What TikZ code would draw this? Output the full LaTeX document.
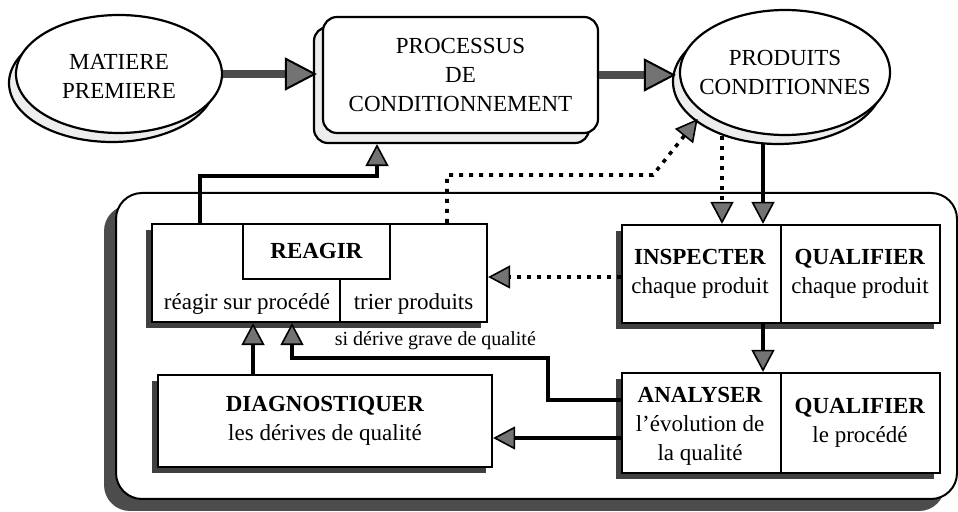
\documentclass[tikz,border=0pt]{standalone}
\usepackage{fontspec}
\setmainfont{Liberation Serif}
\usepackage{tikz}
\usetikzlibrary{arrows.meta,shapes.geometric,shadows,calc}
\newcommand{\txtmain}{\fontsize{11.5}{14.5}\selectfont}
\tikzset{
  ovale/.style   = {ellipse, draw, line width=1.1pt, fill=white, inner sep=0pt,
                    general shadow={shadow xshift=-3.5pt, shadow yshift=-4.5pt,
                                    draw=black, line width=1.1pt, fill=black!7}},
  procbox/.style = {rectangle, rounded corners=7pt, draw, line width=1.1pt, fill=white,
                    align=center, font=\txtmain,
                    general shadow={shadow xshift=-4.5pt, shadow yshift=-5pt,
                                    draw=black, line width=1.1pt, fill=black!7}},
  cadre/.style   = {rectangle, rounded corners=13pt, draw, line width=1pt, fill=white,
                    drop shadow={shadow xshift=-6pt, shadow yshift=-6pt,
                                 fill=black!70, opacity=1}},
  actbox/.style  = {rectangle, draw, line width=1.1pt, fill=white, inner sep=0pt,
                    align=center, font=\txtmain,
                    drop shadow={shadow xshift=-3pt, shadow yshift=-3pt,
                                 fill=black!75, opacity=1}},
  cellbox/.style = {rectangle, draw, line width=1.1pt, fill=white, inner sep=0pt,
                    font=\txtmain},
  txt/.style     = {align=center, font=\txtmain, inner sep=0pt},
  etiq/.style    = {font=\fontsize{10}{12}\selectfont},
  trait/.style   = {line width=1.1pt},
  bigflow/.style = {line width=4pt, draw=black!70,
                    -{Triangle[length=16pt, width=16.5pt, line width=1pt,
                               fill=black!55, color=black]}},
  flow/.style    = {line width=1.8pt,
                    -{Triangle[length=11pt, width=11.5pt, line width=0.8pt,
                               fill=black!55]}},
  dotflow/.style = {flow, dash pattern=on 2pt off 3pt},
}

\begin{document}
\begin{tikzpicture}[x=0.5pt, y=-0.5pt]
  \useasboundingbox (0, 0) rectangle (958, 512);

  \node[cadre, minimum width=420.5pt, minimum height=153pt] (cadre) at (536.5, 346) {};

  \node[ovale, minimum width=103pt, minimum height=59pt] (matiere) at (119, 74) {};
  \node[txt] (matieretxt) at ([yshift=-1pt]matiere.center) {MATIERE\\PREMIERE};
  \node[procbox, minimum width=137.5pt, minimum height=58pt] (proc) at (460.5, 75)
    {PROCESSUS\\DE\\CONDITIONNEMENT};
  \node[ovale, minimum width=105pt, minimum height=62.5pt] (produits) at (785, 72.5) {};
  \node[txt] (produitstxt) at (produits.center) {PRODUITS\\CONDITIONNES};

  \node[actbox, minimum width=167.5pt, minimum height=49pt] (reagir) at (319.5, 273) {};
  \node[cellbox, minimum width=73.5pt, minimum height=27.5pt] (reagirtete) at (316.5, 251.5)
    {\textbf{REAGIR}};
  \coordinate (sep) at (340, 279);
  \draw[trait] (sep) -- (sep |- reagir.south);
  \node[txt, anchor=base] (surproc) at (247, 310) {réagir sur procédé};
  \node[txt, anchor=base] (trier) at (413.5, 310) {trier produits};

  \node[actbox, minimum width=167pt, minimum height=46pt] (diag) at (325, 421)
    {\textbf{DIAGNOSTIQUER}\\les dérives de qualité};

  \node[actbox, minimum width=159pt, minimum height=49pt] (insp) at (781, 274) {};
  \draw[trait] (insp.north) -- (insp.south);
  \node[txt] (inspg) at (700, 274) {\textbf{INSPECTER}\\chaque produit};
  \node[txt] (inspd) at (860, 274) {\textbf{QUALIFIER}\\chaque produit};

  \node[actbox, minimum width=159pt, minimum height=50pt] (anal) at (781, 423) {};
  \draw[trait] (anal.north) -- (anal.south);
  \node[txt] (analg) at (700, 426) {\textbf{ANALYSER}\\l'évolution de\\la qualité};
  \node[txt] (anald) at (860, 423) {\textbf{QUALIFIER}\\le procédé};

  \draw[bigflow, shorten >=2.5pt] (matiere.east) -- (matiere.east -| proc.west);
  \draw[bigflow, shorten >=1.5pt] (proc.east) -- (proc.east -| produits.west);

  \coordinate (r1) at (200, 176);
  \coordinate (r2) at (377, 176);
  \draw[flow, shorten >=5pt] (r1 |- reagir.north) -- (r1) -- (r2) -- (r2 |- proc.south);

  \coordinate (t1) at (447, 175);
  \coordinate (t2) at (653, 175);
  \draw[dotflow, shorten >=4pt] (t1 |- reagir.north) -- (t1) -- (t2) -- (produits.206);

  \coordinate (p1) at (722, 200);
  \coordinate (p2) at (763, 200);
  \draw[dotflow] (p1 |- produits.south) -- (p1 |- insp.north);
  \draw[flow, shorten <=4pt] (p2 |- produits.south) -- (p2 |- insp.north);
  \draw[flow] (p2 |- insp.south) -- (p2 |- anal.north);

  \coordinate (i1) at (600, 277);
  \draw[dotflow] (i1 -| insp.west) -- (i1 -| reagir.east);

  \coordinate (s1) at (548, 400);
  \coordinate (s2) at (292, 358);
  \draw[flow] (s1 -| anal.west) -- (s1) |- (s2)
    node[etiq, pos=0.72, above] {si dérive grave de qualité} -- (s2 |- reagir.south);

  \coordinate (a1) at (600, 438);
  \draw[flow] (a1 -| anal.west) -- (a1 -| diag.east);

  \coordinate (d1) at (253, 350);
  \draw[flow] (d1 |- diag.north) -- (d1 |- reagir.south);
\end{tikzpicture}
\end{document}
